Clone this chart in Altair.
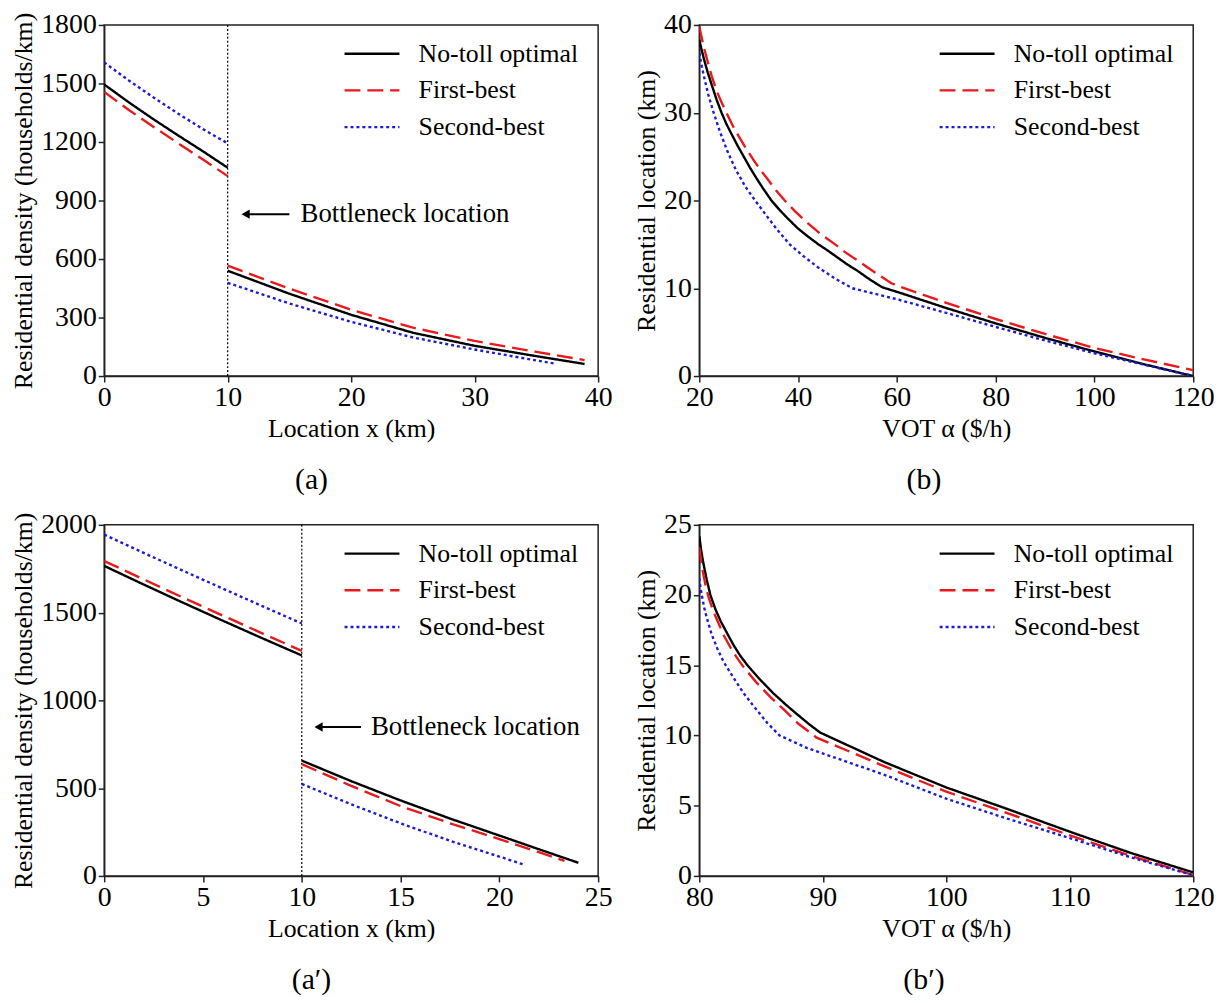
import altair as alt
import pandas as pd

FONT = "Liberation Serif"
SERIES = ["No-toll optimal", "First-best", "Second-best"]
COLORS = ["#000000", "#e8191c", "#1c1cd8"]
DASHES = [[1, 0], [16, 7], [3, 3]]

# ---------------- panel (a): density vs location ----------------
A_X1 = [0, 2, 4, 6, 8, 10]
A_NT1 = [1495, 1403, 1316, 1233, 1152, 1068]
A_FB1 = [1456, 1364, 1277, 1193, 1110, 1025]
A_SB1 = [1608, 1515, 1428, 1345, 1266, 1193]
A_X2 = [10, 15, 20, 25, 30, 35, 38.9]
A_NT2 = [540, 422, 314, 222, 155, 102, 62]
A_FB2 = [566, 448, 340, 248, 180, 124, 82]
A_X2SB = [10, 15, 20, 25, 30, 35, 36.5]
A_SB2 = [478, 372, 278, 198, 136, 80, 64]

# ---------------- panel (b): location vs VOT ----------------
B_X_NT = [20, 20.5, 21, 21.7, 22.5, 23.5, 24.5, 25.5, 26.5, 27.7, 29, 30.2, 31.5, 33, 34.6,
          36.3, 38, 40, 42, 44, 46, 48, 50, 52, 54, 55.5, 57.1, 60, 70, 80, 90, 100, 110, 120]
B_NT = [38.3, 37.1, 36.0, 34.6, 33.2, 31.5, 30.0, 28.7, 27.6, 26.3, 25.0, 23.8, 22.6, 21.3, 20.0,
        18.9, 17.9, 16.8, 15.9, 15.05, 14.3, 13.5, 12.7, 12.0, 11.2, 10.65, 10.1, 9.6, 7.75, 6.0,
        4.35, 2.8, 1.35, 0.0]
B_X_FB = [20, 20.5, 21, 21.7, 22.5, 23.5, 24.5, 25.5, 26.7, 28, 29.5, 31, 32.5, 34, 35.6, 37.3,
          39.5, 42, 44.5, 47.5, 49.3, 51, 52.5, 54, 56.5, 58.8, 60, 70, 80, 90, 100, 110, 120]
B_FB = [39.8, 38.5, 37.3, 35.8, 34.2, 32.5, 31.2, 30.0, 28.6, 27.3, 25.9, 24.6, 23.4, 22.3, 21.1,
        20.0, 18.7, 17.4, 16.2, 15.0, 14.2, 13.55, 13.0, 12.4, 11.45, 10.6, 10.3, 8.35, 6.5, 4.8,
        3.2, 1.9, 0.68]
B_X_SB = [20, 20.5, 21, 21.8, 22.9, 24.2, 25.7, 27.4, 29.3, 31.3, 33.5, 35.8, 38.3, 41, 44,
          47.5, 51, 60, 70, 80, 90, 100, 110, 120]
B_SB = [36.8, 35.3, 34.0, 32.1, 30.0, 27.8, 25.6, 23.5, 21.6, 20.0, 18.35, 16.65, 15.0, 13.7,
        12.4, 11.1, 10.0, 8.75, 7.2, 5.6, 4.05, 2.6, 1.3, 0.0]

# ---------------- panel (a'): density vs location ----------------
C_X1 = [0, 2, 4, 6, 8, 10]
C_NT1 = [1766, 1660, 1556, 1454, 1354, 1256]
C_FB1 = [1794, 1689, 1585, 1483, 1382, 1282]
C_SB1 = [1944, 1840, 1738, 1637, 1537, 1438]
C_X2NT = [10, 12.5, 15, 17.5, 20, 22, 24]
C_NT2 = [657, 540, 430, 327, 230, 152, 75]
C_X2FB = [10, 12.5, 15, 17.5, 20, 22, 23.3]
C_FB2 = [637, 513, 398, 300, 210, 135, 86]
C_X2SB = [10, 12.5, 15, 17.5, 20, 21.2]
C_SB2 = [524, 408, 300, 200, 110, 66]

# ---------------- panel (b'): location vs VOT ----------------
D_X_NT = [80, 80.15, 80.3, 80.6, 80.9, 81.3, 81.75, 82.3, 82.8, 83.3, 83.9, 84.9, 86, 87, 88,
          88.9, 89.8, 95, 100, 105, 110, 115, 120]
D_NT = [24.2, 23.2, 22.4, 21.1, 20.0, 19.0, 18.1, 17.2, 16.4, 15.7, 15.0, 14.0, 13.0, 12.2,
        11.45, 10.8, 10.2, 8.1, 6.3, 4.75, 3.15, 1.62, 0.25]
D_X_FB = [80, 80.15, 80.3, 80.55, 80.8, 81.2, 81.6, 82, 82.5, 83, 83.6, 84.6, 85.8, 86.9, 88,
          89.5, 95, 100, 105, 110, 115, 120]
D_FB = [23.4, 22.4, 21.6, 20.5, 19.7, 18.7, 17.9, 17.1, 16.3, 15.6, 14.85, 13.8, 12.7, 11.8,
        10.85, 9.85, 7.8, 6.0, 4.46, 2.89, 1.41, 0.07]
D_X_SB = [80, 80.1, 80.2, 80.4, 80.6, 81, 81.5, 82, 82.5, 83, 83.6, 84.3, 85.5, 86.5, 88.75,
          95, 100, 105, 110, 115, 120]
D_SB = [21.2, 20.5, 20.0, 19.1, 18.4, 17.2, 16.1, 15.2, 14.5, 13.8, 13.0, 12.2, 10.9, 10.0, 9.1,
        7.2, 5.5, 4.06, 2.7, 1.31, 0.05]

# annotation: (arrow head x, arrow tail x, text x, y)
ANN_A = [11.1, 15.0, 15.9, 830]
ANN_C = [10.5, 13.0, 13.5, 848]


def frame(parts):
    rows = []
    for name, seg, xs, ys in parts:
        for xv, yv in zip(xs, ys):
            rows.append({"x": xv, "y": yv, "series": name, "seg": f"{name}-{seg}"})
    return pd.DataFrame(rows)


def legend():
    return alt.Legend(
        orient="none", legendX=248, legendY=7, title=None,
        symbolType="M-1.35,0H1.35", symbolSize=1681, symbolStrokeWidth=2.4,
        labelFont=FONT, labelFontSize=26, labelColor="black", labelOffset=25,
        labelLimit=400, rowPadding=2, padding=0,
    )


def panel(df, xdom, xticks, ydom, yticks, xtitle, ytitle, sub, ann=None):
    lines = alt.Chart(df).mark_line(strokeWidth=2.4, clip=True).encode(
        x=alt.X("x:Q", scale=alt.Scale(domain=xdom, nice=False, zero=False),
                axis=alt.Axis(values=xticks, title=xtitle, format="d")),
        y=alt.Y("y:Q", scale=alt.Scale(domain=ydom, nice=False, zero=False),
                axis=alt.Axis(values=yticks, title=ytitle, format="d")),
        color=alt.Color("series:N", scale=alt.Scale(domain=SERIES, range=COLORS), legend=legend()),
        strokeDash=alt.StrokeDash("series:N", scale=alt.Scale(domain=SERIES, range=DASHES), legend=legend()),
        detail="seg:N",
    )
    layers = [lines]
    if ann is not None:
        hx, tx, txx, yy = ann
        vline = alt.Chart(pd.DataFrame({"x": [10]})).mark_rule(
            color="black", strokeWidth=1.2, strokeDash=[2, 2]).encode(x="x:Q")
        arrow = alt.Chart(pd.DataFrame({"x": [hx + 0.3], "x2": [tx], "y": [yy]})).mark_rule(
            color="black", strokeWidth=2).encode(x="x:Q", x2="x2:Q", y="y:Q")
        head = alt.Chart(pd.DataFrame({"x": [hx + 0.35], "y": [yy]})).mark_point(
            shape="triangle-left", filled=True, color="black", opacity=1, size=90).encode(x="x:Q", y="y:Q")
        label = alt.Chart(pd.DataFrame({"x": [txx], "y": [yy], "t": ["Bottleneck location"]})).mark_text(
            align="left", baseline="middle", font=FONT, fontSize=27, color="black").encode(
            x="x:Q", y="y:Q", text="t:N")
        layers = [vline, lines, arrow, head, label]
    return alt.layer(*layers).properties(
        width=498, height=354,
        title=alt.TitleParams(sub, orient="bottom", anchor="middle", frame="bounds",
                              font=FONT, fontSize=30, fontWeight="normal", color="black", offset=24),
    )


df_a = frame([
    (SERIES[0], 1, A_X1, A_NT1), (SERIES[0], 2, A_X2, A_NT2),
    (SERIES[1], 1, A_X1, A_FB1), (SERIES[1], 2, A_X2, A_FB2),
    (SERIES[2], 1, A_X1, A_SB1), (SERIES[2], 2, A_X2SB, A_SB2),
])
df_b = frame([
    (SERIES[0], 1, B_X_NT, B_NT), (SERIES[1], 1, B_X_FB, B_FB), (SERIES[2], 1, B_X_SB, B_SB),
])
df_c = frame([
    (SERIES[0], 1, C_X1, C_NT1), (SERIES[0], 2, C_X2NT, C_NT2),
    (SERIES[1], 1, C_X1, C_FB1), (SERIES[1], 2, C_X2FB, C_FB2),
    (SERIES[2], 1, C_X1, C_SB1), (SERIES[2], 2, C_X2SB, C_SB2),
])
df_d = frame([
    (SERIES[0], 1, D_X_NT, D_NT), (SERIES[1], 1, D_X_FB, D_FB), (SERIES[2], 1, D_X_SB, D_SB),
])

pa = panel(df_a, [0, 40], [0, 10, 20, 30, 40], [0, 1800], [0, 300, 600, 900, 1200, 1500, 1800],
           "Location x (km)", "Residential density (households/km)", "(a)", ANN_A)
pb = panel(df_b, [20, 120], [20, 40, 60, 80, 100, 120], [0, 40], [0, 10, 20, 30, 40],
           "VOT α ($/h)", "Residential location (km)", "(b)")
pc = panel(df_c, [0, 25], [0, 5, 10, 15, 20, 25], [0, 2000], [0, 500, 1000, 1500, 2000],
           "Location x (km)", "Residential density (households/km)", "(a′)", ANN_C)
pd_ = panel(df_d, [80, 120], [80, 90, 100, 110, 120], [0, 25], [0, 5, 10, 15, 20, 25],
            "VOT α ($/h)", "Residential location (km)", "(b′)")

chart = alt.concat(pa, pb, pc, pd_, columns=2, spacing={"row": 14, "column": 20}).resolve_scale(
    color="independent", strokeDash="independent"
).properties(
    padding={"left": 2, "top": -2, "right": 5, "bottom": 0}
).configure_view(
    stroke="#222222", strokeWidth=1.5
).configure_axis(
    labelFont=FONT, titleFont=FONT, labelFontSize=28, titleFontSize=26,
    titleFontWeight="normal", labelColor="black", titleColor="black",
    domainColor="#222222", tickColor="#222222", domainWidth=1.5, tickWidth=1.5,
    tickSize=6, grid=False, labelPadding=2, titlePadding=4, labelFlush=False,
    labelOverlap=False,
)

chart.save("out.html", embed_options={"renderer": "svg", "actions": False})
